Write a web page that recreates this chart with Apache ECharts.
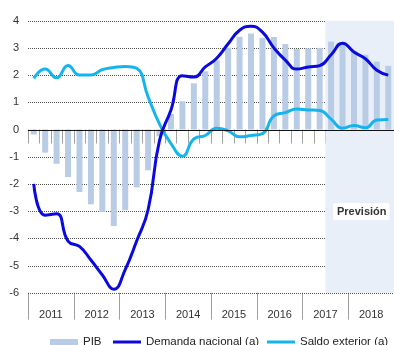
<!DOCTYPE html>
<html>
<head>
<meta charset="utf-8">
<script src="https://cdn.jsdelivr.net/npm/echarts@6/dist/echarts.min.js"></script>
<style>
  html, body { margin: 0; padding: 0; background: #ffffff; }
  #chart { width: 394px; height: 345px; }
</style>
</head>
<body>
<div id="chart"></div>
<script>
// Years shown on the axis, each split into four quarters
const years = ['2011', '2012', '2013', '2014', '2015', '2016', '2017', '2018'];
const quarters = years.flatMap(y => ['T1', 'T2', 'T3', 'T4'].map(q => y + ' ' + q));

// Value axis ticks (percentage points)
const yTicks = [-6, -5, -4, -3, -2, -1, 0, 1, 2, 3, 4];

// Contributions to growth (percentage points), quarterly
const pib = [-0.18, -0.85, -1.26, -1.75, -2.3, -2.75, -3.03, -3.55, -2.97, -2.13, -1.5, -0.25,
             0.57, 1.04, 1.7, 2.14, 2.54, 3.01, 3.41, 3.53, 3.37, 3.4, 3.14, 2.96,
             2.98, 3.0, 3.23, 3.13, 2.88, 2.75, 2.5, 2.34];
const demandaNacional = [-2.0, -3.15, -3.1, -4.1, -4.3, -4.8, -5.35, -5.87, -5.15, -4.1, -2.95, -0.4,
             0.72, 1.98, 1.93, 2.3, 2.62, 3.15, 3.65, 3.8, 3.58, 3.0, 2.55, 2.22,
             2.3, 2.35, 2.75, 3.17, 2.85, 2.6, 2.18, 2.0];
const saldoExterior = [1.88, 2.22, 1.9, 2.35, 2.0, 2.0, 2.2, 2.28, 2.32, 2.25, 1.2, 0.2,
             -0.52, -0.98, -0.35, -0.22, 0.05, -0.05, -0.27, -0.22, -0.15, 0.5, 0.62, 0.75,
             0.72, 0.7, 0.38, 0.05, 0.15, 0.06, 0.35, 0.37];

// Forecast period starts at the 27th quarter (2017 T3)
const forecastStart = 26;
const forecastLabel = 'Previsión';

const FONT = '"Liberation Sans", Arial, sans-serif';
const DARK_BLUE = '#0a0ae0';
const LIGHT_BLUE = '#14b4ee';
const BAR_BLUE = '#b9cce6';
const GRID_GREY = '#555555';

const legendText = { fontFamily: FONT, fontSize: 11.5, color: '#222' };
function legendFor(name, left, h) {
  return {
    left: left,
    top: 331,
    itemWidth: 28,
    itemHeight: h,
    icon: 'rect',
    textStyle: legendText,
    data: [name]
  };
}

const forecastText = {
  id: 'forecast-label',
  type: 'text',
  left: 333,
  top: 203,
  z: 10,
  style: {
    text: forecastLabel,
    font: 'bold 11px ' + FONT,
    fill: '#333',
    backgroundColor: '#ffffff',
    padding: [3, 3, 3, 4],
    borderRadius: 2
  }
};

const chart = echarts.init(document.getElementById('chart'));

chart.setOption({
  animation: false,
  grid: { left: 28, right: -1, top: 20.7, bottom: 52.3 },
  legend: [
    legendFor('PIB', 45, 6),
    legendFor('Demanda nacional (a)', 108, 3),
    legendFor('Saldo exterior (a)', 262, 3)
  ],
  xAxis: [
    {
      type: 'category',
      data: quarters,
      axisLine: { show: false },
      axisLabel: { show: false },
      axisTick: { show: true, interval: 0, length: 14, lineStyle: { color: '#a0a0a0' } }
    },
    {
      type: 'category',
      data: years,
      position: 'bottom',
      axisLine: { show: false },
      axisTick: { show: true, interval: 0, length: 27, lineStyle: { color: '#a0a0a0' } },
      axisLabel: { margin: 17, fontSize: 11, color: '#333', fontFamily: FONT }
    },
    {
      type: 'value',
      min: 0,
      max: quarters.length,
      show: false
    }
  ],
  yAxis: {
    type: 'value',
    min: yTicks[0],
    max: yTicks[yTicks.length - 1],
    interval: 1,
    axisLine: { show: false },
    axisTick: { show: false },
    axisLabel: { margin: 9, fontSize: 11, color: '#333', fontFamily: FONT },
    splitLine: { show: false }
  },
  series: [
    {
      name: 'forecast',
      type: 'line',
      xAxisIndex: 2,
      data: [],
      silent: true,
      markArea: {
        silent: true,
        itemStyle: { color: '#e9eff8' },
        data: [[{ xAxis: forecastStart, yAxis: -6 }, { xAxis: quarters.length, yAxis: 4.1 }]]
      },
      z: 0
    },
    {
      name: 'PIB',
      type: 'bar',
      data: pib,
      barWidth: 6,
      itemStyle: { color: BAR_BLUE },
      z: 2
    },
    {
      name: 'Demanda nacional (a)',
      type: 'line',
      data: demandaNacional,
      smooth: 0.5,
      symbol: 'none',
      lineStyle: { color: DARK_BLUE, width: 3 },
      itemStyle: { color: DARK_BLUE },
      z: 4
    },
    {
      name: 'Saldo exterior (a)',
      type: 'line',
      data: saldoExterior,
      smooth: 0.5,
      symbol: 'none',
      lineStyle: { color: LIGHT_BLUE, width: 3 },
      itemStyle: { color: LIGHT_BLUE },
      z: 3
    }
  ],
  graphic: { elements: [forecastText] }
});

// Horizontal reference lines placed through the axis scales:
// dotted grid at every tick, solid line at zero.
const xLeft = chart.convertToPixel({ xAxisIndex: 2 }, 0);
const xRight = chart.convertToPixel({ xAxisIndex: 2 }, quarters.length);
const gridLineEls = yTicks.map(v => {
  const y = Math.round(chart.convertToPixel({ yAxisIndex: 0 }, v)) + 0.5;
  const zero = v === 0;
  return {
    id: 'hline' + v,
    type: 'line',
    silent: true,
    z: zero ? 5 : 1,
    shape: { x1: xLeft, y1: y, x2: xRight, y2: y },
    style: zero
      ? { stroke: '#111', lineWidth: 1.2 }
      : { stroke: GRID_GREY, lineWidth: 1, lineDash: [1, 1] }
  };
});
chart.setOption({ graphic: { elements: [forecastText].concat(gridLineEls) } });
</script>
</body>
</html>
